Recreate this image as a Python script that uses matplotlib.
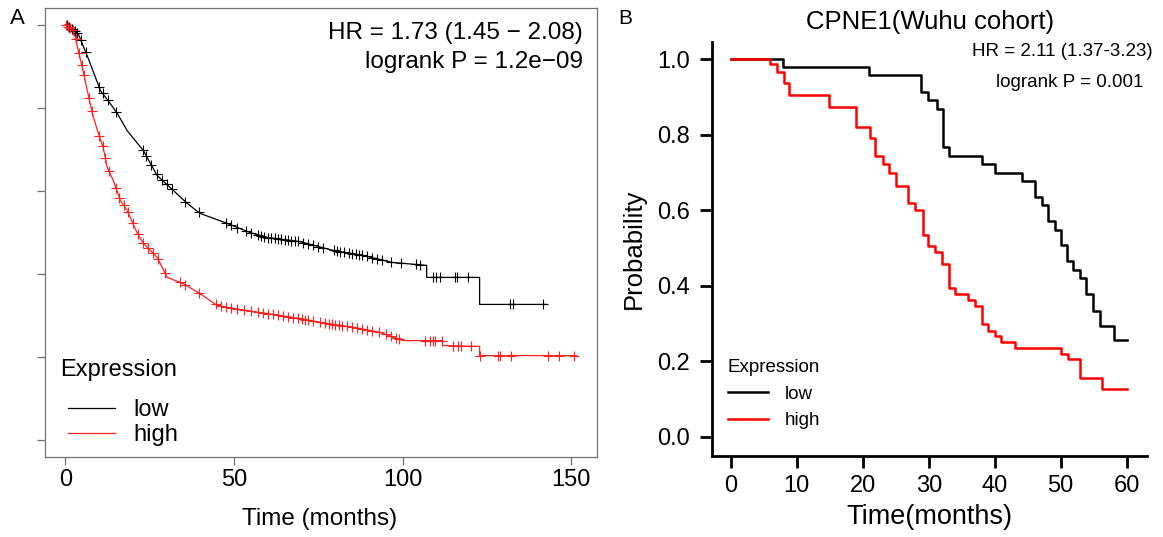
import numpy as np
import matplotlib.pyplot as plt

plt.rcParams['font.family'] = ['Liberation Sans', 'DejaVu Sans']

# ---- panel A (KM plotter), curve points ----
a_low_t = [0, 0.6, 3.8, 6.8, 10.4, 13.3, 15.4, 18.3, 23.1, 27.2, 32.0, 36.1, 39.9, 47.9, 54.7,
           59.8, 69.5, 79.3, 88.2, 96.8, 107.1, 107.1, 122.8, 122.8, 142.6]
a_low_s = [1.0, 0.998, 0.978, 0.918, 0.841, 0.810, 0.786, 0.745, 0.697, 0.637, 0.601, 0.570, 0.546,
           0.522, 0.500, 0.488, 0.478, 0.457, 0.445, 0.428, 0.421, 0.392, 0.392, 0.327, 0.327]
a_high_t = [0, 2.4, 3.6, 5.0, 6.5, 8.0, 9.5, 11.2, 12.4, 14.2, 16.3, 18.3, 21.3, 23.1, 27.2, 30.2,
            34.9, 39.9, 44.9, 49.7, 59.8, 69.5, 75.4, 85.2, 93.2, 100.0, 111.8, 111.8, 122.8, 122.8, 151.5]
a_high_s = [1.0, 0.986, 0.945, 0.897, 0.841, 0.786, 0.745, 0.704, 0.656, 0.625, 0.577, 0.553, 0.498,
            0.474, 0.440, 0.392, 0.377, 0.353, 0.325, 0.317, 0.305, 0.293, 0.284, 0.272, 0.260, 0.240,
            0.240, 0.228, 0.226, 0.204, 0.204]
# censored times
a_low_cens = [0.5, 1.2, 2.0, 2.8, 3.5, 4.5, 6.0, 10.0, 11.0, 12.5, 15.0, 23.0, 24.0, 25.5, 27.0, 28.5,
              30.0, 31.5, 35.5, 39.5, 47.5, 49.0, 51.0, 53.5, 55.0, 57.0, 58.0, 59.0, 60.0, 61.0, 62.0,
              63.0, 64.0, 65.0, 66.0, 67.0, 68.0, 69.0, 70.5, 72.0, 73.5, 75.0, 76.5, 79.5, 80.5, 81.5,
              82.5, 84.0, 85.0, 86.0, 87.0, 88.0, 89.5, 91.0, 92.5, 94.0, 96.5, 99.5, 104.0, 105.0,
              109.0, 110.0, 111.0, 115.5, 116.0, 119.5, 131.8, 132.8, 141.6]
a_high_cens = [0.2, 0.8, 1.5, 2.2, 3.0, 4.0, 4.8, 5.5, 7.0, 7.8, 10.0, 11.0, 11.8, 12.8, 15.0, 16.0,
               17.3, 18.5, 20.0, 21.5, 23.0, 24.5, 26.0, 27.5, 29.5, 34.0, 35.5, 39.5, 44.5, 46.0, 47.5,
               49.0, 51.0, 53.0, 55.0, 57.0, 58.5, 60.0, 61.5, 63.0, 64.5, 66.0, 67.5, 69.0, 70.0, 71.0,
               72.0, 73.5, 75.5, 77.0, 78.0, 79.0, 80.0, 81.0, 82.0, 83.5, 85.0, 86.5, 88.0, 89.5, 91.0,
               93.0, 95.0, 96.5, 98.0, 99.0, 106.6, 108.2, 109.0, 109.5, 111.5, 114.9, 116.4, 117.4,
               120.3, 122.8, 128.2, 128.7, 132.2, 143.1, 146.4, 150.9]

# ---- panel B (Wuhu cohort), step curves ----
b_low_t = [0, 7.9, 21.0, 28.8, 29.9, 31.2, 32.2, 33.0, 38.0, 40.0, 44.1, 46.1, 47.1, 48.1, 49.1,
           50.1, 50.9, 51.9, 52.9, 53.9, 54.9, 56.0, 58.0, 60.0]
b_low_s = [1.0, 0.980, 0.958, 0.914, 0.893, 0.869, 0.767, 0.745, 0.723, 0.700, 0.678, 0.636, 0.614,
           0.571, 0.549, 0.507, 0.465, 0.442, 0.420, 0.378, 0.333, 0.293, 0.256, 0.256]
b_high_t = [0, 6.0, 7.0, 8.0, 8.9, 14.9, 19.0, 21.1, 21.9, 23.0, 24.0, 25.1, 26.9, 27.9, 29.1, 29.9,
            31.0, 32.0, 33.0, 34.0, 36.0, 37.0, 38.0, 39.0, 40.0, 41.0, 43.1, 50.1, 51.1, 52.9, 56.2, 60.0]
b_high_s = [1.0, 0.987, 0.967, 0.938, 0.905, 0.874, 0.822, 0.792, 0.745, 0.724, 0.700, 0.665, 0.620,
            0.600, 0.535, 0.505, 0.490, 0.458, 0.395, 0.377, 0.362, 0.347, 0.298, 0.281, 0.268, 0.250,
            0.234, 0.220, 0.205, 0.157, 0.126, 0.126]

W, H = 1163, 537
fig = plt.figure(figsize=(W / 100, H / 100), dpi=100)

# ------------------------- A -------------------------
axA = fig.add_axes([45 / W, 1 - 457 / H, (597 - 45) / W, (457 - 8) / H])
axA.plot(a_low_t, a_low_s, color='black', lw=0.9, label='low')
axA.plot(a_high_t, a_high_s, color='#ff2020', lw=0.9, label='high')
axA.plot(a_low_cens, np.interp(a_low_cens, a_low_t, a_low_s), '+', color='black', ms=7, mew=0.8)
axA.plot(a_high_cens, np.interp(a_high_cens, a_high_t, a_high_s), '+', color='#ff2020', ms=7, mew=0.8)

axA.set_xlim(-6.06, 157.6)
axA.set_ylim(-0.04, 1.04)
axA.set_xticks([0, 50, 100, 150])
axA.set_yticks(np.arange(0, 1.01, 0.2))
axA.set_yticklabels([])
for s in axA.spines.values():
    s.set_color('#707070')
    s.set_linewidth(0.9)
axA.tick_params(direction='out', length=6, width=0.9, color='#707070', labelsize=17, pad=3)
axA.set_xlabel('Time (months)', fontsize=17.5)
axA.xaxis.set_label_coords((320 - 45) / 552, (457 - 508) / 449)

axA.text(0.975, 0.944, 'HR = 1.73 (1.45 \u2212 2.08)', transform=axA.transAxes,
         ha='right', va='center', fontsize=17.5)
axA.text(0.975, 0.879, 'logrank P = 1.2e\u221209', transform=axA.transAxes,
         ha='right', va='center', fontsize=17.5)
axA.text(0.027, (457 - 370) / 449, 'Expression', transform=axA.transAxes,
         ha='left', va='center', fontsize=17)
axA.legend(loc='lower left', bbox_to_anchor=(0.042, 0.025), frameon=False,
           fontsize=17, handlelength=2.0, handletextpad=0.75, labelspacing=0.12,
           borderpad=0, borderaxespad=0)
fig.text(17 / W, 1 - 18 / H, 'A', fontsize=16, ha='center', va='center')

# ------------------------- B -------------------------
axB = fig.add_axes([711.7 / W, 1 - 456 / H, (1146.7 - 711.7) / W, (456 - 42) / H])
axB.step(b_low_t, b_low_s, where='post', color='black', lw=1.8, label='low')
axB.step(b_high_t, b_high_s, where='post', color='#ff0000', lw=1.8, label='high')
axB.set_xlim(-2.88, 63.03)
axB.set_ylim(-0.051, 1.046)
axB.set_xticks(range(0, 61, 10))
axB.set_yticks(np.arange(0, 1.01, 0.2))
axB.set_yticklabels(['%.1f' % v for v in np.arange(0, 1.01, 0.2)])
axB.spines['top'].set_visible(False)
axB.spines['right'].set_visible(False)
axB.spines['left'].set_linewidth(2)
axB.spines['bottom'].set_linewidth(2)
axB.tick_params(direction='out', length=8.4, width=2, labelsize=17)
axB.tick_params(axis='y', pad=7)
axB.tick_params(axis='x', pad=5)
axB.set_ylabel('Probability', fontsize=18.5)
axB.yaxis.set_label_coords(-0.151, 0.5)
axB.set_xlabel('Time(months)', fontsize=19.5)
axB.xaxis.set_label_coords(0.5, (456 - 504) / 414)
axB.text(0.805, 0.976, 'HR = 2.11 (1.37-3.23)', transform=axB.transAxes,
         ha='center', va='center', fontsize=13.5)
axB.text(0.824, 0.903, 'logrank P = 0.001', transform=axB.transAxes,
         ha='center', va='center', fontsize=13.5)
axB.legend(title='Expression', loc='lower left', bbox_to_anchor=(0.037, 0.065), frameon=False,
           fontsize=13.5, title_fontsize=13.5, alignment='left', handlelength=2.15,
           handletextpad=0.9, labelspacing=0.5, borderpad=0, borderaxespad=0)
fig.text(930 / W, 1 - 22 / H, 'CPNE1(Wuhu cohort)', fontsize=18.5, ha='center', va='center')
fig.text(625 / W, 1 - 18 / H, 'B', fontsize=15, ha='center', va='center')

fig.savefig('out.png', dpi=100)
